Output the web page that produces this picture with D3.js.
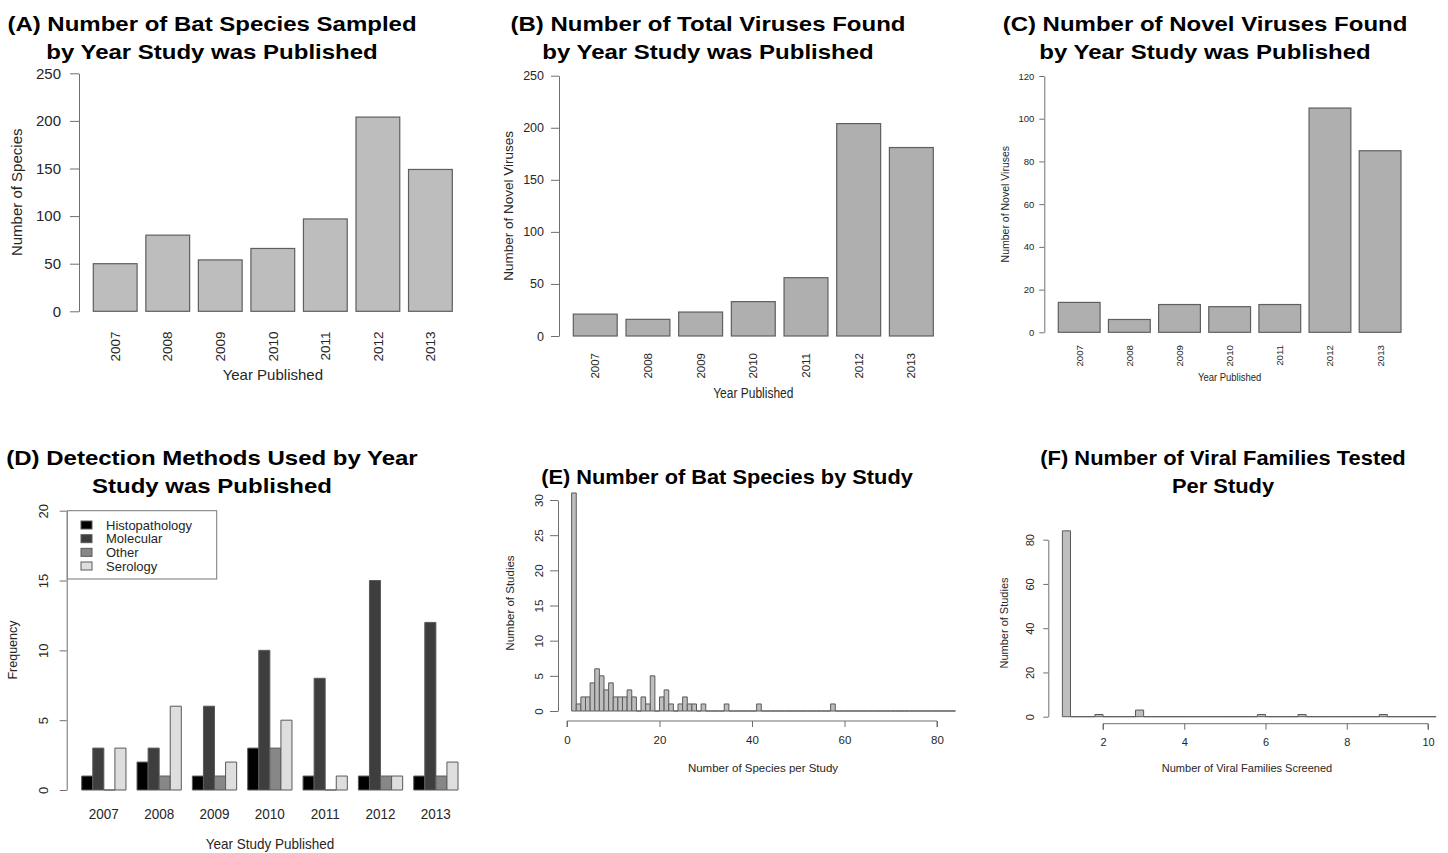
<!DOCTYPE html>
<html>
<head>
<meta charset="utf-8">
<script src="https://cdn.jsdelivr.net/npm/d3@7"></script>
<style>
  body { margin: 0; background: #fff; }
  svg text { font-family: "Liberation Sans", Arial, Helvetica, sans-serif; }
</style>
</head>
<body>
<div id="chart"></div>
<script>
// Data

const years = ["2007", "2008", "2009", "2010", "2011", "2012", "2013"];

// (A) bat species sampled per year
const batSpecies = [50, 80, 54, 66, 97, 204, 149];
// (B) total viruses found per year
const totalViruses = [21, 16, 23, 33, 56, 204, 181];
// (C) novel viruses found per year
const novelViruses = [14, 6, 13, 12, 13, 105, 85];

// (D) detection methods per year
const methods = ["Histopathology", "Molecular", "Other", "Serology"];
const histopathology = [1, 2, 1, 3, 1, 1, 1];
const molecular = [3, 3, 6, 10, 8, 15, 12];
const otherMethod = [0, 1, 1, 3, 0, 1, 1];
const serology = [3, 6, 2, 5, 1, 1, 2];

// (E) histogram: studies by number of species, bins of 1 starting at 1
const speciesBinStart = 1;
const speciesBinWidth = 1;
const speciesCounts = [
  31, 1, 2, 2, 4, 6, 5, 3, 4, 2,
  2, 2, 3, 2, 0, 2, 1, 5, 0, 2,
  3, 1, 0, 1, 2, 1, 1, 0, 1, 0,
  0, 0, 0, 1, 0, 0, 0, 0, 0, 0,
  1, 0, 0, 0, 0, 0, 0, 0, 0, 0,
  0, 0, 0, 0, 0, 0, 1, 0, 0, 0,
  0, 0, 0, 0, 0, 0, 0, 0, 0, 0,
  0, 0, 0, 0, 0, 0, 0, 0, 0, 0,
  0, 0, 0
];

// (F) histogram: studies by number of viral families, bins of 0.2 starting at 1
const familyBinStart = 1;
const familyBinWidth = 0.2;
const familyCounts = [
  84, 0, 0, 0, 1, 0, 0, 0, 0, 3,
  0, 0, 0, 0, 0, 0, 0, 0, 0, 0,
  0, 0, 0, 0, 1, 0, 0, 0, 0, 1,
  0, 0, 0, 0, 0, 0, 0, 0, 0, 1,
  0, 0, 0, 0, 0, 0
];

const axisColor = "#6f6f6f";
const textColor = "#262626";

const svg = d3.select("#chart")
  .append("svg")
  .attr("width", 1448)
  .attr("height", 853);

// small helper for placed text
function addText(g, str, x, y, o) {
  o = o || {};
  let tr = `translate(${x},${y})`;
  if (o.scale) tr += ` scale(${o.scale[0]},${o.scale[1]})`;
  if (o.rotate) tr += " rotate(-90)";
  return g.append("text")
    .attr("transform", tr)
    .attr("text-anchor", o.anchor || "middle")
    .attr("dy", o.dy === undefined ? "0.35em" : o.dy)
    .attr("font-size", o.size || 12)
    .attr("font-weight", o.bold ? "bold" : null)
    .attr("fill", o.fill || textColor)
    .text(str);
}

// bold panel titles (the originals are a bit wider than plain Arial)
function addTitle(lines, cx, y0, sx) {
  lines.forEach((t, i) => {
    addText(svg, t, cx, y0 + i * 28, {size: 20, bold: true, dy: 0, fill: "#000", scale: [sx || 1.2, 1]});
  });
}

function styleAxis(sel, size) {
  sel.attr("font-size", size).attr("font-family", null);
  sel.selectAll(".domain").attr("stroke", axisColor);
  sel.selectAll(".tick line").attr("stroke", axisColor);
  sel.selectAll(".tick text").attr("fill", textColor);
}

/*

  Year bar charts (A, B, C)

*/

function yearBars(values, c) {
  const g = svg.append("g");

  const x = d3.scaleBand()
    .domain(years)
    .range([c.left, c.right])
    .paddingInner(1 / 6)
    .paddingOuter(0);

  const y = d3.scaleLinear()
    .domain([0, c.max])
    .range([c.bottom, c.top]);

  const ax = g.append("g")
    .attr("transform", `translate(${c.axisX},0)`)
    .call(d3.axisLeft(y).tickValues(c.ticks).tickSize(c.tickLen).tickSizeOuter(0).tickPadding(c.tickPad));
  styleAxis(ax, c.tickSize);

  g.selectAll(".bar")
    .data(values)
    .enter()
    .append("rect")
      .attr("class", "bar")
      .attr("x", (d, i) => x(years[i]))
      .attr("y", d => y(d))
      .attr("width", x.bandwidth())
      .attr("height", d => y(0) - y(d))
      .attr("fill", c.fill)
      .attr("stroke", "#5f5f5f")
      .attr("stroke-width", 1.2);

  // rotated year names under each bar
  years.forEach(yr => {
    addText(g, yr, x(yr) + x.bandwidth() / 2, c.yearTop, {size: c.yearSize, rotate: true, anchor: "end"});
  });

  addText(g, c.ylab, c.ylabX, (c.top + c.bottom) / 2, {size: c.ylabSize, rotate: true});
  addText(g, "Year Published", (c.left + c.right) / 2, c.xlabY, {size: c.xlabSize, scale: c.xlabScale});
}

addTitle(["(A) Number of Bat Species Sampled", "by Year Study was Published"], 212, 31);
yearBars(batSpecies, {
  left: 93.3, right: 452.3, top: 73.3, bottom: 311.3, axisX: 79,
  max: 250, ticks: [0, 50, 100, 150, 200, 250], tickLen: 9, tickPad: 9, tickSize: 15,
  fill: "#bdbdbd", yearTop: 331.5, yearSize: 13.5, ylab: "Number of Species", ylabX: 17,
  ylabSize: 15, xlabSize: 15, xlabY: 375
});

addTitle(["(B) Number of Total Viruses Found", "by Year Study was Published"], 708, 31);
yearBars(totalViruses, {
  left: 573.3, right: 933.3, top: 75.7, bottom: 336, axisX: 559,
  max: 250, ticks: [0, 50, 100, 150, 200, 250], tickLen: 8, tickPad: 7, tickSize: 12.5,
  fill: "#afafaf", yearTop: 353, yearSize: 11.5, ylab: "Number of Novel Viruses", ylabX: 508,
  ylabSize: 13.5, xlabSize: 12, xlabScale: [1, 1.15], xlabY: 393
});

addTitle(["(C) Number of Novel Viruses Found", "by Year Study was Published"], 1205, 31);
yearBars(novelViruses, {
  left: 1058.3, right: 1401, top: 76, bottom: 332.3, axisX: 1044.3,
  max: 120, ticks: [0, 20, 40, 60, 80, 100, 120], tickLen: 5, tickPad: 5, tickSize: 9.5,
  fill: "#afafaf", yearTop: 345, yearSize: 9.7, ylab: "Number of Novel Viruses", ylabX: 1005.7,
  ylabSize: 10.5, xlabSize: 9.5, xlabScale: [1, 1.15], xlabY: 376.7
});

/*

  (D) grouped bars

*/

addTitle(["(D) Detection Methods Used by Year", "Study was Published"], 212, 465);

const methodValues = [histopathology, molecular, otherMethod, serology];
const methodColors = ["#000000", "#3e3e3e", "#878787", "#dedede"];

const gD = svg.append("g");
const xD = d3.scaleBand().domain(years).range([81.7, 458]).paddingInner(0.2).paddingOuter(0);
const xDInner = d3.scaleBand().domain(methods).range([0, xD.bandwidth()]);
const yD = d3.scaleLinear().domain([0, 20]).range([790, 510.7]);

const axD = gD.append("g")
  .attr("transform", "translate(66.7,0)")
  .call(d3.axisLeft(yD).tickValues([0, 5, 10, 15, 20]).tickSize(7).tickSizeOuter(0));
styleAxis(axD, 13);
axD.selectAll(".tick text")
  .attr("x", null).attr("dy", null)
  .attr("text-anchor", "middle")
  .attr("transform", "translate(-19,0) rotate(-90)");

years.forEach((yr, i) => {
  methods.forEach((m, j) => {
    const v = methodValues[j][i];
    const x0 = xD(yr) + xDInner(m);
    const x1 = x0 + xDInner.bandwidth();
    gD.append("path")
      .attr("d", `M${x0},${yD(0)}V${yD(v)}H${x1}V${yD(0)}Z`)
      .attr("fill", methodColors[j])
      .attr("stroke", "#5a5a5a")
      .attr("stroke-width", 1);
  });
  addText(gD, yr, xD(yr) + xD.bandwidth() / 2, 813.3, {size: 13.5, scale: [1, 1.12]});
});

addText(gD, "Frequency", 13, 650, {size: 12.5, rotate: true});
addText(gD, "Year Study Published", 270, 844, {size: 13.5, scale: [1, 1.12]});

// legend
const legD = gD.append("g");
legD.append("rect")
  .attr("x", 67.3).attr("y", 510.7)
  .attr("width", 149.4).attr("height", 68.3)
  .attr("fill", "#fff").attr("stroke", "#777").attr("stroke-width", 1);
methods.forEach((m, j) => {
  const cy = 525 + j * 13.67;
  legD.append("rect")
    .attr("x", 81).attr("y", cy - 4)
    .attr("width", 11).attr("height", 8)
    .attr("fill", methodColors[j]).attr("stroke", "#5a5a5a");
  addText(legD, m, 106, cy, {size: 13, anchor: "start"});
});

/*

  Histograms (E, F)

*/

function histogram(counts, c) {
  const g = svg.append("g");
  const x = d3.scaleLinear().domain(c.xDomain).range(c.xRange);
  const y = d3.scaleLinear().domain(c.yDomain).range(c.yRange);

  const ay = g.append("g")
    .attr("transform", `translate(${c.axisX},0)`)
    .call(d3.axisLeft(y).tickValues(c.yTicks).tickSize(c.yTickLen).tickSizeOuter(0));
  styleAxis(ay, c.tickSize);
  ay.selectAll(".tick text")
    .attr("x", null).attr("dy", null)
    .attr("text-anchor", "middle")
    .attr("transform", `translate(${-c.yLabOff},0) rotate(-90)`);

  const ax = g.append("g")
    .attr("transform", `translate(0,${c.axisY})`)
    .call(d3.axisBottom(x).tickValues(c.xTicks).tickSize(c.xTickLen).tickSizeOuter(0).tickPadding(c.xTickPad));
  styleAxis(ax, c.tickSize);
  ax.select(".domain").attr("d", `M${x(c.xTicks[0])},${c.xTickLen}V0H${x(c.xTicks[c.xTicks.length - 1])}V${c.xTickLen}`);

  // every bin, empty ones show as a flat line on the baseline
  g.selectAll(".bin")
    .data(counts)
    .enter()
    .append("path")
      .attr("class", "bin")
      .attr("d", (d, i) => {
        const x0 = x(c.binStart + i * c.binWidth);
        const x1 = x(c.binStart + (i + 1) * c.binWidth);
        return `M${x0},${y(0)}V${y(d)}H${x1}V${y(0)}Z`;
      })
      .attr("fill", "#bebebe")
      .attr("stroke", "#5a5a5a")
      .attr("stroke-width", 1);

  addText(g, "Number of Studies", c.ylabX, c.ylabY, {size: c.labSize, rotate: true});
  addText(g, c.xlab, c.xlabX, c.xlabY, {size: c.labSize});
}

addTitle(["(E) Number of Bat Species by Study"], 727, 484, 1.09);
histogram(speciesCounts, {
  binStart: speciesBinStart, binWidth: speciesBinWidth,
  xDomain: [0, 80], xRange: [567, 937], yDomain: [0, 30], yRange: [711, 500],
  axisX: 558, axisY: 721, yTicks: [0, 5, 10, 15, 20, 25, 30], xTicks: [0, 20, 40, 60, 80],
  yTickLen: 8, xTickLen: 6, xTickPad: 9, yLabOff: 15, tickSize: 11.5,
  ylabX: 510, ylabY: 603, xlab: "Number of Species per Study", xlabX: 763, xlabY: 768.3, labSize: 11.5
});

addTitle(["(F) Number of Viral Families Tested", "Per Study"], 1223, 465, 1.095);
histogram(familyCounts, {
  binStart: familyBinStart, binWidth: familyBinWidth,
  xDomain: [2, 10], xRange: [1103, 1428], yDomain: [0, 80], yRange: [716.7, 539.7],
  axisX: 1048.3, axisY: 723.7, yTicks: [0, 20, 40, 60, 80], xTicks: [2, 4, 6, 8, 10],
  yTickLen: 5, xTickLen: 6, xTickPad: 9, yLabOff: 14, tickSize: 11,
  ylabX: 1004, ylabY: 623, xlab: "Number of Viral Families Screened", xlabX: 1247, xlabY: 768.3, labSize: 11
});
</script>
</body>
</html>
